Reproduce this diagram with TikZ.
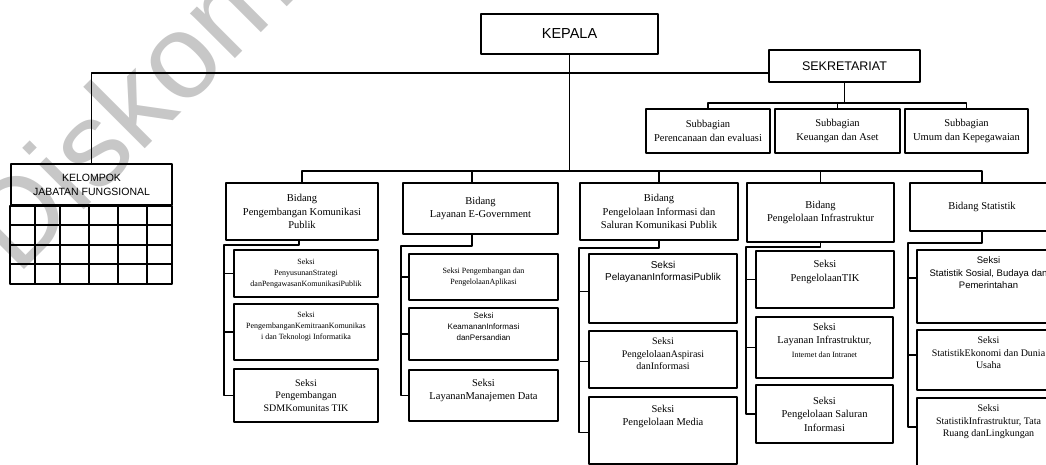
\documentclass[tikz,border=0pt]{standalone}
\usepackage{fontspec}
\setmainfont{Liberation Serif}
\setsansfont{Liberation Sans}
\newcommand{\txtlift}[1]{\rule[-#1pt]{0pt}{0pt}}
\begin{document}
\begin{tikzpicture}[x=1pt,y=-1pt,line join=round,
  box/.style={draw,line width=1.8pt,inner sep=1pt,align=center},
  link/.style={line width=1.3pt},
  grid/.style={line width=1.8pt},
  bid/.style={font=\fontsize{10.5}{13.5}\selectfont},
  mid/.style={font=\fontsize{10}{12.5}\selectfont},
  tiny/.style={font=\fontsize{8}{11}\selectfont},
  sub/.style={font=\fontsize{10.5}{13.5}\selectfont},
  wm/.style={text=black!22,font=\sffamily\fontsize{120}{124}\selectfont}]
\useasboundingbox (0,0) rectangle (1046,465);
\clip (0,0) rectangle (1046,465);

\node[wm,rotate=45,anchor=base west,inner sep=0pt] (wmark) at (17,277) {Diskominfo};

\node[box,minimum width=177,minimum height=40,font=\sffamily\fontsize{14.5}{17}\selectfont] (kepala) at (569.5,34) {KEPALA};
\node[box,minimum width=151,minimum height=32,font=\sffamily\fontsize{12.5}{15}\selectfont] (sek) at (844.5,66) {SEKRETARIAT};
\node[box,sub,minimum width=124,minimum height=44] (sub1) at (708,131) {Subbagian\\Perencanaan dan evaluasi};
\node[box,sub,minimum width=125,minimum height=44] (sub2) at (837.5,131) {Subbagian\\Keuangan dan Aset};
\node[box,sub,minimum width=123,minimum height=44] (sub3) at (966.5,131) {Subbagian\\Umum dan Kepegawaian};
\node[box,minimum width=161,minimum height=41,font=\sffamily\fontsize{10.5}{14}\selectfont] (jf) at (91.5,184.5) {KELOMPOK\\JABATAN FUNGSIONAL};
\draw[grid] (jf.south west) rectangle (172,284);
\foreach \y in {225,245,264} \draw[grid] (11,\y) -- (172,\y);
\foreach \x in {35,60,89,118,147} \draw[grid] (\x,205) -- (\x,284);

\node[box,bid,minimum width=152,minimum height=57] (bid1) at (302,211.5) {Bidang\\Pengembangan Komunikasi\\Publik};
\node[box,bid,minimum width=155,minimum height=51] (bid2) at (480.5,208.5) {Bidang\\Layanan E-Government};
\node[box,bid,minimum width=158,minimum height=57] (bid3) at (659,211.5) {Bidang\\Pengelolaan Informasi dan\\Saluran Komunikasi Publik};
\node[box,bid,minimum width=147,minimum height=59] (bid4) at (820.5,212.5) {Bidang\\Pengelolaan Infrastruktur};
\node[box,bid,minimum width=144,minimum height=48] (bid5) at (982,207) {Bidang Statistik};

\node[box,tiny,minimum width=144,minimum height=47] (s11) at (306,273.5) {Seksi\\PenyusunanStrategi\\danPengawasanKomunikasiPublik};
\node[box,tiny,minimum width=144,minimum height=56] (s12) at (306,332) {Seksi\\PengembanganKemitraanKomunikas\\i dan Teknologi Informatika\txtlift{12}};
\node[box,mid,minimum width=144,minimum height=53] (s13) at (306,395.5) {Seksi\\Pengembangan\\SDMKomunitas TIK};
\node[box,tiny,minimum width=149,minimum height=46] (s21) at (483.5,277) {Seksi Pengembangan dan\\PengelolaanAplikasi};
\node[box,minimum width=149,minimum height=52,font=\sffamily\fontsize{8}{11}\selectfont] (s22) at (483.5,334) {Seksi\\KeamananInformasi\\danPersandian\txtlift{14}};
\node[box,bid,minimum width=149,minimum height=51] (s23) at (483.5,395.5) {Seksi\\LayananManajemen Data\txtlift{12}};
\node[box,minimum width=148,minimum height=69,font=\sffamily\fontsize{10}{12.5}\selectfont] (s31) at (663,288.5) {Seksi\\PelayananInformasiPublik\txtlift{35}};
\node[box,mid,minimum width=148,minimum height=57] (s32) at (663,359.5) {Seksi\\PengelolaanAspirasi\\danInformasi\txtlift{11}};
\node[box,bid,minimum width=148,minimum height=67] (s33) at (663,430.5) {Seksi\\Pengelolaan Media\txtlift{30}};
\node[box,bid,minimum width=138,minimum height=57] (s41) at (825,279.5) {Seksi\\PengelolaanTIK\txtlift{17}};
\node[box,bid,minimum width=137,minimum height=61] (s42) at (824.5,347.5) {Seksi\\Layanan Infrastruktur,\\{\fontsize{8}{10}\selectfont Internet dan Intranet}\txtlift{15}};
\node[box,bid,minimum width=137,minimum height=58] (s43) at (824.5,414) {Seksi\\Pengelolaan Saluran\\Informasi};
\node[box,minimum width=143,minimum height=73,font=\sffamily\fontsize{9.5}{12.5}\selectfont] (s51) at (988.5,286.5) {Seksi\\Statistik Sosial, Budaya dan\\Pemerintahan\txtlift{27}};
\node[box,mid,minimum width=143,minimum height=60] (s52) at (988.5,360) {Seksi\\StatistikEkonomi dan Dunia\\Usaha\txtlift{14}};
\node[box,mid,minimum width=143,minimum height=82] (s53) at (988.5,439) {Seksi\\StatistikInfrastruktur, Tata\\Ruang danLingkungan\txtlift{36}};

\coordinate (hub) at (569.5,73);
\coordinate (bus) at (569.5,171);
\coordinate (sbus) at (844.5,103);
\draw[link] (kepala.south) -- (bus);
\draw[link] (jf.north) |- (hub) -- (hub -| sek.west);
\draw[link] (sek.south) -- (sbus);
\draw[link] (sub1.north) |- (sbus) -| (sub3.north);
\draw[link] (sub2.north) -- (sub2.north |- sbus);
\draw[link] (bid1.north) |- (bus) -| (bid5.north);
\draw[link] ([xshift=-8.5pt]bid2.north) -- ([xshift=-8.5pt]bid2.north |- bus);
\draw[link] (bid3.north) -- (bid3.north |- bus);
\draw[link] (bid4.north) -- (bid4.north |- bus);

\draw[link] ([xshift=-3pt]bid1.south) -- ++(0,4) -| ([xshift=-9pt]s13.west) -- (s13.west);
\draw[link] (s11.west) -- ++(-9,0);
\draw[link] (s12.west) -- ++(-9,0);
\draw[link] ([xshift=-8.5pt]bid2.south) -- ++(0,11) -| ([xshift=-7pt]s23.west) -- (s23.west);
\draw[link] (s21.west) -- ++(-7,0);
\draw[link] (s22.west) -- ++(-7,0);
\draw[link] (bid3.south) -- ++(0,7) -| ([xshift=-9pt,yshift=-2pt]s33.west) -- ([yshift=-2pt]s33.west);
\draw[link] ([yshift=-3pt]s31.west) -- ++(-9,0);
\draw[link] ([yshift=-2pt]s32.west) -- ++(-9,0);
\draw[link] (bid4.south) -- ++(0,4) -| ([xshift=-9pt]s43.west) -- (s43.west);
\draw[link] (s41.west) -- ++(-9,0);
\draw[link] (s42.west) -- ++(-9,0);
\draw[link] (bid5.south) -- ++(0,11) -| ([xshift=-8pt,yshift=12pt]s53.west) -- ([yshift=12pt]s53.west);
\draw[link] ([yshift=8.5pt]s51.west) -- ++(-8,0);
\draw[link] ([yshift=5pt]s52.west) -- ++(-8,0);
\end{tikzpicture}
\end{document}
